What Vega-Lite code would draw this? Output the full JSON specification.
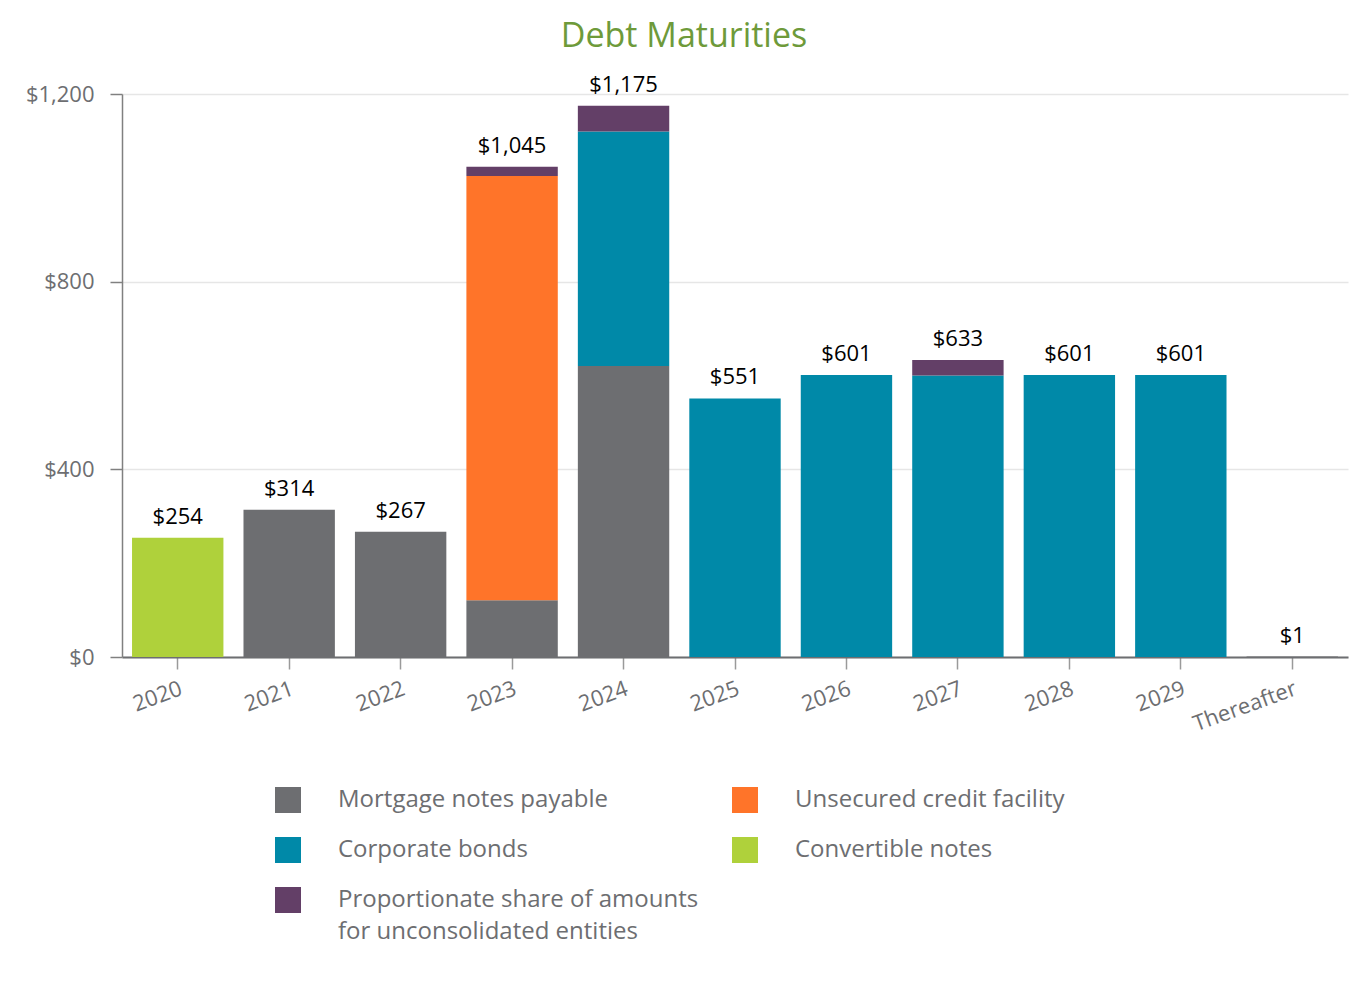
{
  "$schema": "https://vega.github.io/schema/vega-lite/v6.json",
  "width": 1226,
  "height": 563,
  "autosize": {"type": "none"},
  "padding": {"left": 122, "top": 94, "right": 20, "bottom": 329},
  "background": "white",
  "config": {
    "font": "Open Sans",
    "view": {"stroke": null},
    "style": {"guide-label": {"lineHeight": 32}}
  },
  "title": {
    "text": "Debt Maturities",
    "fontSize": 34,
    "fontWeight": "normal",
    "color": "#6e9a3a",
    "anchor": "middle",
    "dx": -51,
    "offset": 20
  },
  "data": {
    "values": [
      {"year": "2020", "type": "Convertible notes", "amount": 254},
      {"year": "2021", "type": "Mortgage notes payable", "amount": 314},
      {"year": "2022", "type": "Mortgage notes payable", "amount": 267},
      {"year": "2023", "type": "Mortgage notes payable", "amount": 121},
      {"year": "2023", "type": "Unsecured credit facility", "amount": 904},
      {"year": "2023", "type": "Proportionate share of amounts for unconsolidated entities", "amount": 20},
      {"year": "2024", "type": "Mortgage notes payable", "amount": 620},
      {"year": "2024", "type": "Corporate bonds", "amount": 500},
      {"year": "2024", "type": "Proportionate share of amounts for unconsolidated entities", "amount": 55},
      {"year": "2025", "type": "Corporate bonds", "amount": 551},
      {"year": "2026", "type": "Corporate bonds", "amount": 601},
      {"year": "2027", "type": "Corporate bonds", "amount": 600},
      {"year": "2027", "type": "Proportionate share of amounts for unconsolidated entities", "amount": 33},
      {"year": "2028", "type": "Corporate bonds", "amount": 601},
      {"year": "2029", "type": "Corporate bonds", "amount": 601},
      {"year": "Thereafter", "type": "Mortgage notes payable", "amount": 1}
    ]
  },
  "layer": [
    {
      "transform": [
        {"calculate": "indexof(['Convertible notes','Mortgage notes payable','Unsecured credit facility','Corporate bonds','Proportionate share of amounts for unconsolidated entities'], datum.type)", "as": "stackOrder"}
      ],
      "mark": {"type": "bar"},
      "encoding": {
        "x": {
          "field": "year", "type": "nominal", "sort": null,
          "scale": {"paddingInner": 0.18, "paddingOuter": 0.09},
          "axis": {
            "title": null,
            "labelAngle": -20,
            "labelAlign": "right",
            "labelBaseline": "top",
            "labelPadding": 9,
            "labelFontSize": 22,
            "labelColor": "#6d6e71",
            "tickSize": 12,
            "tickColor": "#9a9a9a",
            "tickWidth": 1.5,
            "domainColor": "#6d6e71",
            "domainWidth": 2,
            "grid": false
          }
        },
        "y": {
          "field": "amount", "type": "quantitative", "aggregate": "sum",
          "stack": "zero",
          "scale": {"domain": [0, 1200], "nice": false},
          "axis": {
            "title": null,
            "values": [0, 400, 800, 1200],
            "format": "$,.0f",
            "labelFontSize": 22,
            "labelColor": "#6d6e71",
            "labelPadding": 16,
            "tickSize": 12,
            "tickColor": "#808080",
            "tickWidth": 1.5,
            "domainColor": "#808080",
            "domainWidth": 1.5,
            "grid": true,
            "gridColor": "#e6e6e6",
            "gridWidth": 1.5
          }
        },
        "order": {"field": "stackOrder", "type": "quantitative"},
        "color": {
          "field": "type", "type": "nominal",
          "scale": {
            "domain": ["Mortgage notes payable", "Corporate bonds", "Proportionate share of amounts for unconsolidated entities", "Unsecured credit facility", "Convertible notes"],
            "range": ["#6d6e71", "#0089a8", "#633f67", "#ff7429", "#afd13b"]
          },
          "legend": {
            "title": null,
            "orient": "none",
            "legendX": 153,
            "legendY": 693,
            "direction": "vertical",
            "columns": 2,
            "columnPadding": 33,
            "rowPadding": 24,
            "symbolType": "square",
            "symbolSize": 676,
            "symbolStrokeWidth": 0,
            "symbolOpacity": 1,
            "labelFontSize": 24,
            "labelColor": "#6d6e71",
            "labelOffset": 37,
            "labelLimit": 500,
            "labelExpr": "datum.value == 'Proportionate share of amounts for unconsolidated entities' ? ['Proportionate share of amounts', 'for unconsolidated entities'] : datum.label"
          }
        }
      }
    },
    {
      "mark": {"type": "text", "baseline": "bottom", "dy": -9, "fontSize": 22, "color": "#000000"},
      "encoding": {
        "x": {"field": "year", "type": "nominal", "sort": null},
        "y": {"field": "amount", "type": "quantitative", "aggregate": "sum"},
        "text": {"field": "amount", "type": "quantitative", "aggregate": "sum", "format": "$,.0f"}
      }
    }
  ]
}
